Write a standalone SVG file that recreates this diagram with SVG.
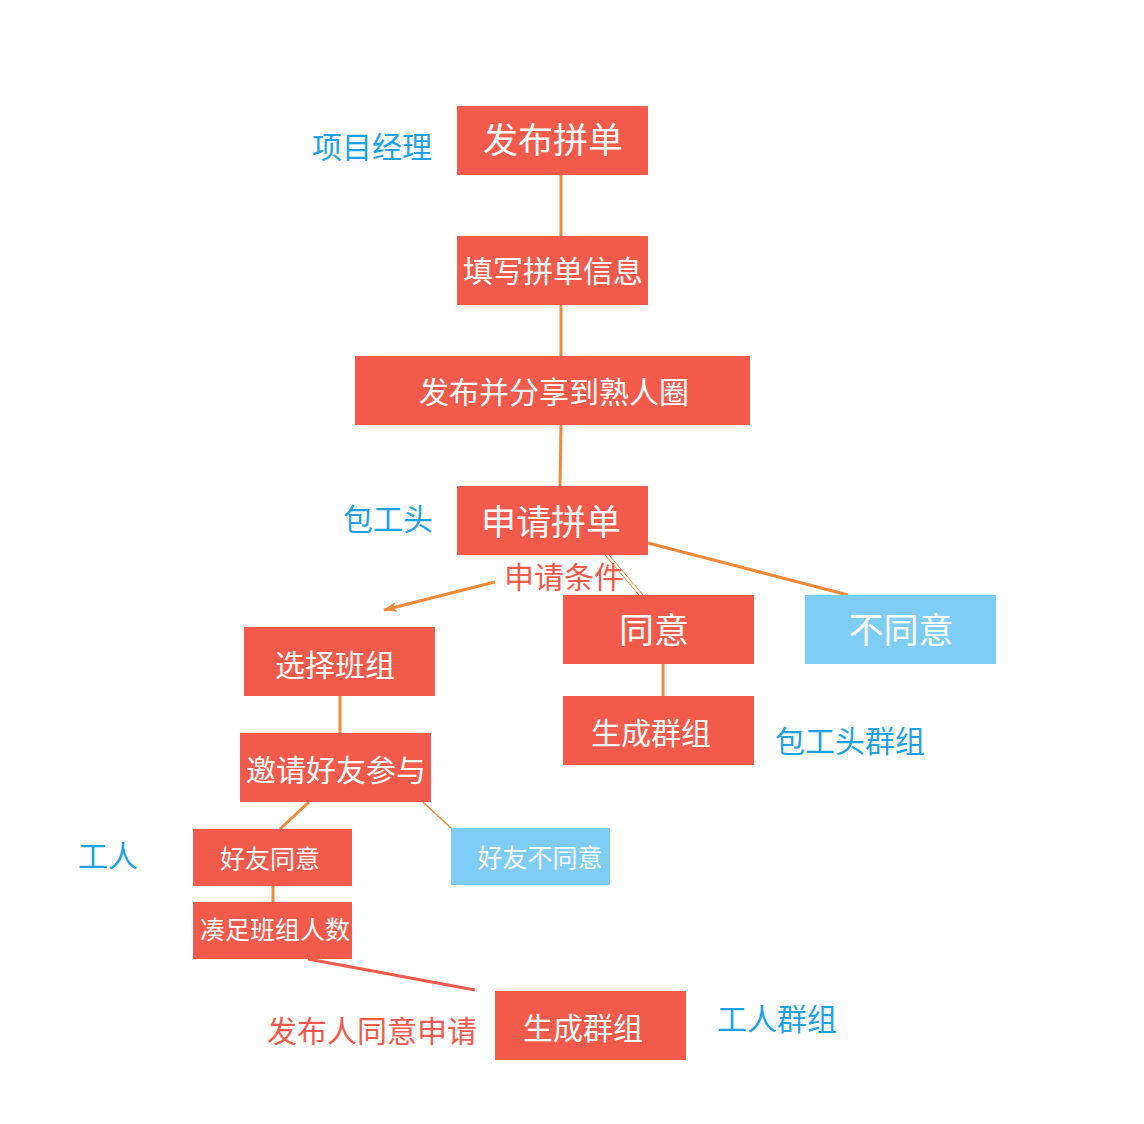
<svg xmlns="http://www.w3.org/2000/svg" width="1144" height="1124" viewBox="0 0 1144 1124">
<defs>
<style>
.r{fill:#f25a4c}
.b{fill:#7fcdf4}
.t{fill:#fff;font-family:"Noto Sans CJK SC","Noto Sans",sans-serif;text-anchor:middle}
.lb{fill:#1ea2e6;font-family:"Noto Sans CJK SC","Noto Sans",sans-serif;font-size:30px}
.lr{fill:#f25a4c;font-family:"Noto Sans CJK SC","Noto Sans",sans-serif;font-size:30px}
.c{stroke:#f08a3a;stroke-width:3;fill:none}
</style>
<marker id="ah" markerWidth="16" markerHeight="10" refX="14" refY="5" orient="auto" markerUnits="userSpaceOnUse">
<path d="M15,5 L1,0 L5,5 L1,10 Z" fill="#f08a3a"/>
</marker>
</defs>
<rect width="1144" height="1124" fill="#fff"/>
<g id="connectors">
<line class="c" x1="561" y1="175" x2="561" y2="236"/>
<line class="c" x1="561" y1="305" x2="561" y2="356"/>
<line class="c" x1="561" y1="425" x2="560" y2="486"/>
<line class="c" x1="648" y1="543" x2="848" y2="595"/>
<line stroke="#f08a3a" stroke-width="1" x1="605" y1="555" x2="639" y2="595"/>
<line stroke="#f08a3a" stroke-width="1" x1="609" y1="555" x2="643" y2="595"/>
<line class="c" x1="495" y1="582" x2="384" y2="610" marker-end="url(#ah)"/>
<line class="c" x1="663" y1="664" x2="663" y2="696"/>
<line class="c" x1="340" y1="696" x2="340" y2="733"/>
<line class="c" x1="309" y1="802" x2="280" y2="829"/>
<line stroke="#f08a3a" stroke-width="1.5" x1="423" y1="802" x2="452" y2="829"/>
<line class="c" x1="273" y1="886" x2="273" y2="902"/>
<line stroke="#f25a4c" stroke-width="3" x1="308" y1="959" x2="475" y2="990"/>
</g>
<g id="n1"><rect class="r" x="457" y="106" width="191" height="69"/><text class="t" x="553" y="153" font-size="35">发布拼单</text></g>
<g id="n2"><rect class="r" x="457" y="236" width="191" height="69"/><text class="t" x="553" y="282" font-size="30">填写拼单信息</text></g>
<g id="n3"><rect class="r" x="355" y="356" width="395" height="69"/><text class="t" x="554" y="403" font-size="30">发布并分享到熟人圈</text></g>
<g id="n4"><rect class="r" x="457" y="486" width="191" height="69"/><text class="t" x="551" y="535" font-size="35">申请拼单</text></g>
<g id="n5"><rect class="r" x="563" y="595" width="191" height="69"/><text class="t" x="654" y="643" font-size="35">同意</text></g>
<g id="n6"><rect class="b" x="805" y="595" width="191" height="69"/><text class="t" x="901" y="643" font-size="35">不同意</text></g>
<g id="n7"><rect class="r" x="563" y="696" width="191" height="69"/><text class="t" x="651" y="744" font-size="30">生成群组</text></g>
<g id="n8"><rect class="r" x="244" y="627" width="191" height="69"/><text class="t" x="335" y="676" font-size="30">选择班组</text></g>
<g id="n9"><rect class="r" x="240" y="733" width="191" height="69"/><text class="t" x="336" y="781" font-size="30">邀请好友参与</text></g>
<g id="n10"><rect class="r" x="193" y="829" width="159" height="57"/><text class="t" x="270" y="868" font-size="25">好友同意</text></g>
<g id="n11"><rect class="b" x="451" y="828" width="159" height="57"/><text class="t" x="540" y="867" font-size="25">好友不同意</text></g>
<g id="n12"><rect class="r" x="193" y="902" width="159" height="57"/><text class="t" x="275" y="939" font-size="25">凑足班组人数</text></g>
<g id="n13"><rect class="r" x="495" y="991" width="191" height="69"/><text class="t" x="583" y="1039" font-size="30">生成群组</text></g>
<g id="labels">
<text class="lb" x="312" y="158">项目经理</text>
<text class="lb" x="343" y="530">包工头</text>
<text class="lr" x="504" y="588">申请条件</text>
<text class="lb" x="775" y="752">包工头群组</text>
<text class="lb" x="78" y="867">工人</text>
<text class="lr" x="267" y="1042">发布人同意申请</text>
<text class="lb" x="717" y="1030">工人群组</text>
</g>
</svg>
